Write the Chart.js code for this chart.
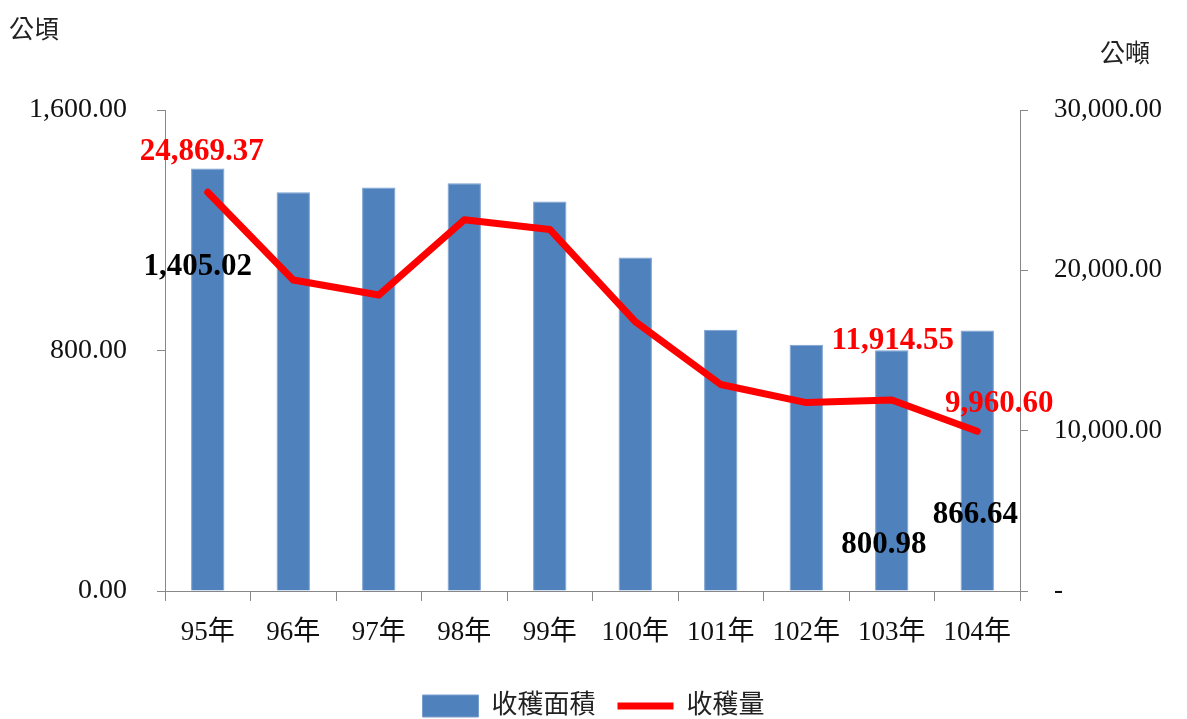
<!DOCTYPE html>
<html>
<head>
<meta charset="utf-8">
<script src="https://cdn.jsdelivr.net/npm/chart.js@4/dist/chart.umd.min.js"></script>
<style>
  html, body { margin: 0; padding: 0; background: #fff; }
  #wrap { width: 1187px; height: 719px; }
</style>
</head>
<body>
<div id="wrap"><canvas id="harvest"></canvas></div>
<script>
// 年度
var years = ['95年', '96年', '97年', '98年', '99年', '100年', '101年', '102年', '103年', '104年'];
// 收穫面積 (公頃)
var areaValues = [1405.02, 1326, 1342, 1356, 1296, 1109, 869, 819, 800.98, 866.64];
// 收穫量 (公噸)
var outputValues = [24869.37, 19400, 18460, 23150, 22550, 16800, 12880, 11750, 11914.55, 9960.60];
// 只標示這幾年的數值
var labelIdx = [0, 8, 9];
var areaTicks = [0, 800, 1600];
var outputTicks = [0, 10000, 20000, 30000];

var serif = '"Liberation Serif", "Noto Sans CJK TC", serif';

function fmt(v) {
   return v.toLocaleString('en-US', { minimumFractionDigits: 2, maximumFractionDigits: 2 });
}

// 手動位置的數值標籤 (原圖標籤位置被拉開過)
var barLabelOffset = { 0: [-10, 98], 8: [-8, 195], 9: [-2, 185] };
var lineLabelOffset = { 0: [-6, -40], 8: [1, -59], 9: [22, -27] };

var valueLabels = {
   id: 'valueLabels',
   afterDatasetsDraw: function(chart) {
      var c = chart.ctx;
      c.save();
      c.font = 'bold 31px ' + serif;
      c.textAlign = 'center';
      c.textBaseline = 'middle';
      var barMeta = chart.getDatasetMeta(0);
      var lineMeta = chart.getDatasetMeta(1);
      labelIdx.forEach(function(i) {
         var b = barMeta.data[i];
         var o = barLabelOffset[i];
         c.fillStyle = '#000';
         c.fillText(fmt(areaValues[i]), b.x + o[0], b.y + o[1]);
         var p = lineMeta.data[i];
         var q = lineLabelOffset[i];
         c.fillStyle = '#ff0000';
         c.fillText(fmt(outputValues[i]), p.x + q[0], p.y + q[1]);
      });
      c.restore();
   }
};

var unitTitles = {
   id: 'unitTitles',
   afterDraw: function(chart) {
      var c = chart.ctx;
      c.save();
      c.font = '25px ' + serif;
      c.fillStyle = '#222';
      c.textBaseline = 'middle';
      c.textAlign = 'left';
      c.fillText('公頃', 9, 31);
      c.fillText('公噸', 1100, 55);
      c.restore();
   }
};

new Chart(document.getElementById('harvest'), {
   type: 'bar',
   data: {
      labels: years,
      datasets: [{
         type: 'bar',
         label: '收穫面積',
         data: areaValues,
         yAxisID: 'yArea',
         backgroundColor: '#4f81bd',
         borderColor: '#7a9fd0',
         borderWidth: 1,
         barPercentage: 0.39,
         categoryPercentage: 1,
         order: 2,
         pointStyle: 'rect'
      }, {
         type: 'line',
         label: '收穫量',
         data: outputValues,
         yAxisID: 'yOutput',
         borderColor: '#ff0000',
         backgroundColor: '#ff0000',
         borderWidth: 7,
         borderJoinStyle: 'round',
         borderCapStyle: 'round',
         pointRadius: 0,
         tension: 0,
         order: 1,
         pointStyle: 'line'
      }]
   },
   options: {
      responsive: true,
      maintainAspectRatio: false,
      animation: false,
      layout: { padding: { top: 110, left: 0, right: 0, bottom: -10 } },
      plugins: {
         tooltip: { enabled: false },
         legend: {
            position: 'bottom',
            labels: {
               usePointStyle: true,
               pointStyleWidth: 56,
               boxHeight: 22,
               padding: 22,
               color: '#222',
               font: { family: serif, size: 26 },
               sort: function(a, b) { return a.datasetIndex - b.datasetIndex; }
            }
         }
      },
      scales: {
         x: {
            grid: { display: true, drawOnChartArea: false, offset: true, color: '#888', tickLength: 10 },
            border: { color: '#888' },
            ticks: { color: '#111', font: { family: serif, size: 27 }, padding: 16, maxRotation: 0, autoSkip: false },
            afterFit: function(scale) { scale.height = 80; }
         },
         yArea: {
            position: 'left',
            min: 0,
            max: 1600,
            grid: { display: true, drawOnChartArea: false, color: '#888', tickLength: 8 },
            border: { color: '#888' },
            afterBuildTicks: function(scale) {
               scale.ticks = areaTicks.map(function(v) { return { value: v }; });
            },
            ticks: {
               color: '#111',
               font: { family: serif, size: 28 },
               padding: 30,
               callback: function(v) { return fmt(v); }
            },
            afterFit: function(scale) { scale.width = 165; }
         },
         yOutput: {
            position: 'right',
            min: 0,
            max: 30000,
            grid: { display: true, drawOnChartArea: false, color: '#888', tickLength: 8 },
            border: { color: '#888' },
            afterBuildTicks: function(scale) {
               scale.ticks = outputTicks.map(function(v) { return { value: v }; });
            },
            ticks: {
               color: '#111',
               font: { family: serif, size: 27 },
               padding: 26,
               callback: function(v) { return v === 0 ? '-' : fmt(v); }
            },
            afterFit: function(scale) { scale.width = 167; }
         }
      }
   },
   plugins: [valueLabels, unitTitles]
});
</script>
</body>
</html>
